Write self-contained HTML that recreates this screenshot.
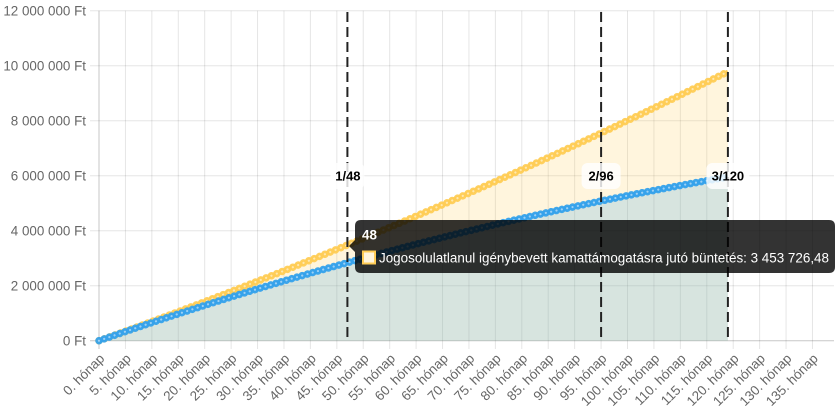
<!DOCTYPE html>
<html><head><meta charset="utf-8"><style>
html,body{margin:0;padding:0;background:#fff;}
svg{display:block;font-family:"Liberation Sans",Arial,sans-serif;}
</style></head><body>
<svg width="839" height="419" viewBox="0 0 839 419" xmlns="http://www.w3.org/2000/svg">
<rect width="839" height="419" fill="#fff"/>
<g stroke="rgba(0,0,0,0.1)" stroke-width="1">
<line x1="125.43" y1="10.7" x2="125.43" y2="349"/>
<line x1="151.85" y1="10.7" x2="151.85" y2="349"/>
<line x1="178.28" y1="10.7" x2="178.28" y2="349"/>
<line x1="204.7" y1="10.7" x2="204.7" y2="349"/>
<line x1="231.13" y1="10.7" x2="231.13" y2="349"/>
<line x1="257.55" y1="10.7" x2="257.55" y2="349"/>
<line x1="283.98" y1="10.7" x2="283.98" y2="349"/>
<line x1="310.4" y1="10.7" x2="310.4" y2="349"/>
<line x1="336.83" y1="10.7" x2="336.83" y2="349"/>
<line x1="363.25" y1="10.7" x2="363.25" y2="349"/>
<line x1="389.68" y1="10.7" x2="389.68" y2="349"/>
<line x1="416.1" y1="10.7" x2="416.1" y2="349"/>
<line x1="442.53" y1="10.7" x2="442.53" y2="349"/>
<line x1="468.95" y1="10.7" x2="468.95" y2="349"/>
<line x1="495.38" y1="10.7" x2="495.38" y2="349"/>
<line x1="521.8" y1="10.7" x2="521.8" y2="349"/>
<line x1="548.23" y1="10.7" x2="548.23" y2="349"/>
<line x1="574.65" y1="10.7" x2="574.65" y2="349"/>
<line x1="601.08" y1="10.7" x2="601.08" y2="349"/>
<line x1="627.5" y1="10.7" x2="627.5" y2="349"/>
<line x1="653.93" y1="10.7" x2="653.93" y2="349"/>
<line x1="680.35" y1="10.7" x2="680.35" y2="349"/>
<line x1="706.78" y1="10.7" x2="706.78" y2="349"/>
<line x1="733.2" y1="10.7" x2="733.2" y2="349"/>
<line x1="759.63" y1="10.7" x2="759.63" y2="349"/>
<line x1="786.05" y1="10.7" x2="786.05" y2="349"/>
<line x1="812.48" y1="10.7" x2="812.48" y2="349"/>
<line x1="90" y1="10.7" x2="834" y2="10.7"/>
<line x1="90" y1="65.7" x2="834" y2="65.7"/>
<line x1="90" y1="120.7" x2="834" y2="120.7"/>
<line x1="90" y1="175.7" x2="834" y2="175.7"/>
<line x1="90" y1="230.7" x2="834" y2="230.7"/>
<line x1="90" y1="285.7" x2="834" y2="285.7"/>
</g>
<g stroke="rgba(0,0,0,0.22)" stroke-width="1">
<line x1="99" y1="10.7" x2="99" y2="349"/>
<line x1="90" y1="340.7" x2="834" y2="340.7"/>
</g>
<path d="M99,340.7 Q413.45,228.27 727.9,71.7 L727.9,340.7 Z" fill="rgba(255,205,86,0.2)"/>
<path d="M99,340.7 Q413.45,230.92 727.9,177 L727.9,340.7 Z" fill="rgba(54,162,235,0.2)"/>
<path d="M99,340.7 Q413.45,228.27 727.9,71.7" fill="none" stroke="rgb(255,205,86)" stroke-width="7.5" stroke-linecap="round" stroke-dasharray="0.01 5.75" opacity="0.95"/>
<path d="M99,340.7 Q413.45,228.27 727.9,71.7" fill="none" stroke="rgb(255,205,86)" stroke-width="4"/>
<path d="M99,340.7 Q413.45,228.27 727.9,71.7" fill="none" stroke="rgba(255,240,205,0.75)" stroke-width="2.2" stroke-linecap="round" stroke-dasharray="0.01 5.75"/>
<path d="M99,340.7 Q413.45,230.92 727.9,177" fill="none" stroke="rgb(54,162,235)" stroke-width="7.5" stroke-linecap="round" stroke-dasharray="0.01 5.46" opacity="0.95"/>
<path d="M99,340.7 Q413.45,230.92 727.9,177" fill="none" stroke="rgb(54,162,235)" stroke-width="4"/>
<path d="M99,340.7 Q413.45,230.92 727.9,177" fill="none" stroke="rgba(200,228,250,0.7)" stroke-width="2.2" stroke-linecap="round" stroke-dasharray="0.01 5.46"/>
<g font-size="13.4" fill="#666" text-anchor="end">
<text x="86" y="15.4">12 000 000 Ft</text>
<text x="86" y="70.4">10 000 000 Ft</text>
<text x="86" y="125.4">8 000 000 Ft</text>
<text x="86" y="180.4">6 000 000 Ft</text>
<text x="86" y="235.4">4 000 000 Ft</text>
<text x="86" y="290.4">2 000 000 Ft</text>
<text x="86" y="345.4">0 Ft</text>
</g>
<g font-size="13.4" fill="#666" text-anchor="end">
<text transform="translate(102,356) rotate(-45)" dy="0.35em">0. hónap</text>
<text transform="translate(128.43,356) rotate(-45)" dy="0.35em">5. hónap</text>
<text transform="translate(154.85,356) rotate(-45)" dy="0.35em">10. hónap</text>
<text transform="translate(181.28,356) rotate(-45)" dy="0.35em">15. hónap</text>
<text transform="translate(207.7,356) rotate(-45)" dy="0.35em">20. hónap</text>
<text transform="translate(234.13,356) rotate(-45)" dy="0.35em">25. hónap</text>
<text transform="translate(260.55,356) rotate(-45)" dy="0.35em">30. hónap</text>
<text transform="translate(286.98,356) rotate(-45)" dy="0.35em">35. hónap</text>
<text transform="translate(313.4,356) rotate(-45)" dy="0.35em">40. hónap</text>
<text transform="translate(339.83,356) rotate(-45)" dy="0.35em">45. hónap</text>
<text transform="translate(366.25,356) rotate(-45)" dy="0.35em">50. hónap</text>
<text transform="translate(392.68,356) rotate(-45)" dy="0.35em">55. hónap</text>
<text transform="translate(419.1,356) rotate(-45)" dy="0.35em">60. hónap</text>
<text transform="translate(445.53,356) rotate(-45)" dy="0.35em">65. hónap</text>
<text transform="translate(471.95,356) rotate(-45)" dy="0.35em">70. hónap</text>
<text transform="translate(498.38,356) rotate(-45)" dy="0.35em">75. hónap</text>
<text transform="translate(524.8,356) rotate(-45)" dy="0.35em">80. hónap</text>
<text transform="translate(551.23,356) rotate(-45)" dy="0.35em">85. hónap</text>
<text transform="translate(577.65,356) rotate(-45)" dy="0.35em">90. hónap</text>
<text transform="translate(604.08,356) rotate(-45)" dy="0.35em">95. hónap</text>
<text transform="translate(630.5,356) rotate(-45)" dy="0.35em">100. hónap</text>
<text transform="translate(656.93,356) rotate(-45)" dy="0.35em">105. hónap</text>
<text transform="translate(683.35,356) rotate(-45)" dy="0.35em">110. hónap</text>
<text transform="translate(709.78,356) rotate(-45)" dy="0.35em">115. hónap</text>
<text transform="translate(736.2,356) rotate(-45)" dy="0.35em">120. hónap</text>
<text transform="translate(762.63,356) rotate(-45)" dy="0.35em">125. hónap</text>
<text transform="translate(789.05,356) rotate(-45)" dy="0.35em">130. hónap</text>
<text transform="translate(815.48,356) rotate(-45)" dy="0.35em">135. hónap</text>
</g>
<g stroke="#222" stroke-width="2" stroke-dasharray="10 5">
<line x1="347.4" y1="12" x2="347.4" y2="341"/>
<line x1="601.1" y1="12" x2="601.1" y2="341"/>
<line x1="727.9" y1="12" x2="727.9" y2="341"/>
</g>
<g fill="rgba(255,255,255,0.82)">
<rect x="330.4" y="163" width="34" height="26" rx="6"/>
<rect x="581.6" y="163" width="39" height="26" rx="6"/>
<rect x="706.4" y="163" width="43" height="26" rx="6"/>
</g>
<g font-size="13" font-weight="bold" fill="#000" text-anchor="middle">
<text x="347.9" y="180.6">1/48</text>
<text x="601.1" y="180.6">2/96</text>
<text x="727.9" y="180.6">3/120</text>
</g>
<path d="M361,220 H829 Q835,220 835,226 V267 Q835,273 829,273 H361 Q355,273 355,267 V252 L349,246 L355,240 V226 Q355,220 361,220 Z" fill="rgba(0,0,0,0.8)"/>
<text x="362" y="239.5" font-size="13.4" font-weight="bold" fill="#fff">48</text>
<rect x="363" y="251.5" width="12" height="12" fill="rgb(255,245,221)" stroke="rgb(255,205,86)" stroke-width="2"/>
<text x="379" y="262.5" font-size="13.4" fill="#fff" textLength="450" lengthAdjust="spacingAndGlyphs">Jogosolulatlanul igénybevett kamattámogatásra jutó büntetés: 3 453 726,48</text>
</svg>
</body></html>
